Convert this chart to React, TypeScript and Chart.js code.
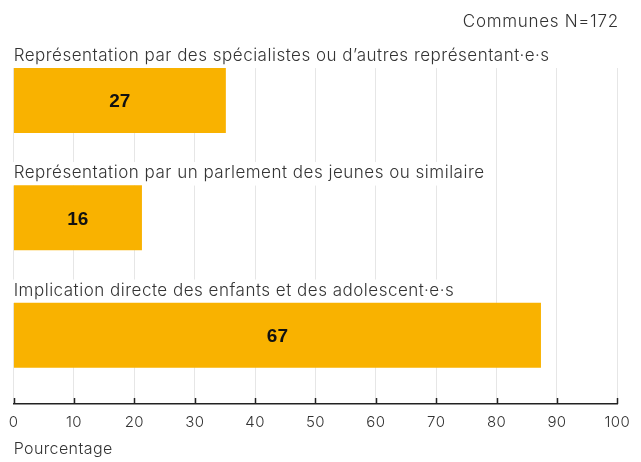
import React, { useEffect, useRef } from "react";
import { Chart, registerables } from "chart.js";

Chart.register(...registerables);

const categories = [
  "Représentation par des spécialistes ou d’autres représentant·e·s",
  "Représentation par un parlement des jeunes ou similaire",
  "Implication directe des enfants et des adolescent·e·s",
];
// bar lengths as drawn against the 0–100 axis
const barLengths = [35.1, 21.2, 87.3];
// values printed inside the bars
const valueLabels = ["27", "16", "67"];
const xTicks = [0, 10, 20, 30, 40, 50, 60, 70, 80, 90, 100];
const noteText = "Communes N=172";
const axisTitle = "Pourcentage";

const FONT = "Inter";
const BOLD_FONT = "'Liberation Sans'";
const TEXT = "#333333";
const BAR = "#F9B200";

const decorPlugin = {
  id: "decor",
  beforeDraw(chart: any) {
    (chart.ctx as any).letterSpacing = "0.4px";
  },
  beforeDatasetsDraw(chart: any) {
    const { ctx, chartArea } = chart;
    const meta = chart.getDatasetMeta(0);
    ctx.save();
    ctx.font = `300 17px ${FONT}`;
    (ctx as any).letterSpacing = "0.5px";
    ctx.textBaseline = "alphabetic";
    ctx.textAlign = "left";
    meta.data.forEach((bar: any, i: number) => {
      const p = bar.getProps(["y", "height"], true);
      const top = p.y - p.height / 2;
      const base = top - 7.5;
      const w = ctx.measureText(categories[i]).width;
      ctx.fillStyle = "#ffffff";
      ctx.fillRect(chartArea.left - 1, base - 16, w + 5, top - (base - 16));
      ctx.fillStyle = TEXT;
      ctx.fillText(categories[i], chartArea.left, base);
    });
    ctx.restore();
  },
  afterDatasetsDraw(chart: any) {
    const { ctx, chartArea, scales } = chart;
    const meta = chart.getDatasetMeta(0);
    ctx.save();
    (ctx as any).letterSpacing = "0px";
    ctx.font = `bold 19px ${BOLD_FONT}`;
    ctx.fillStyle = "#111111";
    ctx.textAlign = "center";
    ctx.textBaseline = "alphabetic";
    meta.data.forEach((bar: any, i: number) => {
      const p = bar.getProps(["x", "y", "base"], true);
      ctx.fillText(valueLabels[i], (p.x + p.base) / 2, p.y + 7);
    });
    ctx.strokeStyle = "#222222";
    ctx.lineWidth = 1.5;
    xTicks.forEach((v) => {
      const x = Math.round(scales.x.getPixelForValue(v)) + 0.5;
      ctx.beginPath();
      ctx.moveTo(x, chartArea.bottom - 6);
      ctx.lineTo(x, chartArea.bottom);
      ctx.stroke();
    });
    ctx.font = `300 17px ${FONT}`;
    (ctx as any).letterSpacing = "0.7px";
    ctx.fillStyle = TEXT;
    ctx.textAlign = "right";
    ctx.fillText(noteText, chartArea.right + 1.5, 27.3);
    ctx.restore();
  },
};

export default function App() {
  const ref = useRef<HTMLCanvasElement>(null);
  useEffect(() => {
    document.body.style.margin = "0";
    const canvas = ref.current!;
    Chart.defaults.font.family = FONT;
    const chart = new Chart(canvas, {
      type: "bar",
      data: {
        datasets: [
          {
            data: barLengths.map((v, i) => ({ x: v, y: i })),
            backgroundColor: BAR,
            borderWidth: 0,
            barThickness: 64.5,
          },
        ],
      },
      options: {
        indexAxis: "y",
        animation: false,
        responsive: false,
        devicePixelRatio: 1,
        layout: { padding: { top: 68, left: 13.5, right: 23.7, bottom: 0 } },
        plugins: { legend: { display: false }, tooltip: { enabled: false }, title: { display: false } },
        scales: {
          y: {
            type: "linear",
            display: false,
            reverse: true,
            bounds: "data",
            offset: false,
            min: -0.275,
            max: 2.585,
          },
          x: {
            type: "linear",
            position: "bottom",
            min: 0,
            max: 100,
            afterBuildTicks: (s: any) => {
              s.ticks = xTicks.map((v) => ({ value: v }));
            },
            afterFit: (s: any) => {
              s.height = 58;
            },
            ticks: {
              autoSkip: false,
              maxRotation: 0,
              padding: 9,
              color: TEXT,
              font: { family: FONT, size: 15, weight: "300" },
            },
            grid: { color: "#e6e6e6", lineWidth: 1, drawTicks: false },
            border: { display: true, color: "#222222", width: 1.5 },
            title: {
              display: true,
              text: axisTitle,
              align: "start",
              color: TEXT,
              font: { family: FONT, size: 16, weight: "300" },
              padding: { top: 0, bottom: 3.4 },
            },
          },
        },
      },
      plugins: [decorPlugin],
    } as any);
    return () => chart.destroy();
  }, []);
  return (
    <div style={{ width: 641, height: 462 }}>
      <canvas ref={ref} width={641} height={462} style={{ display: "block" }} />
    </div>
  );
}
